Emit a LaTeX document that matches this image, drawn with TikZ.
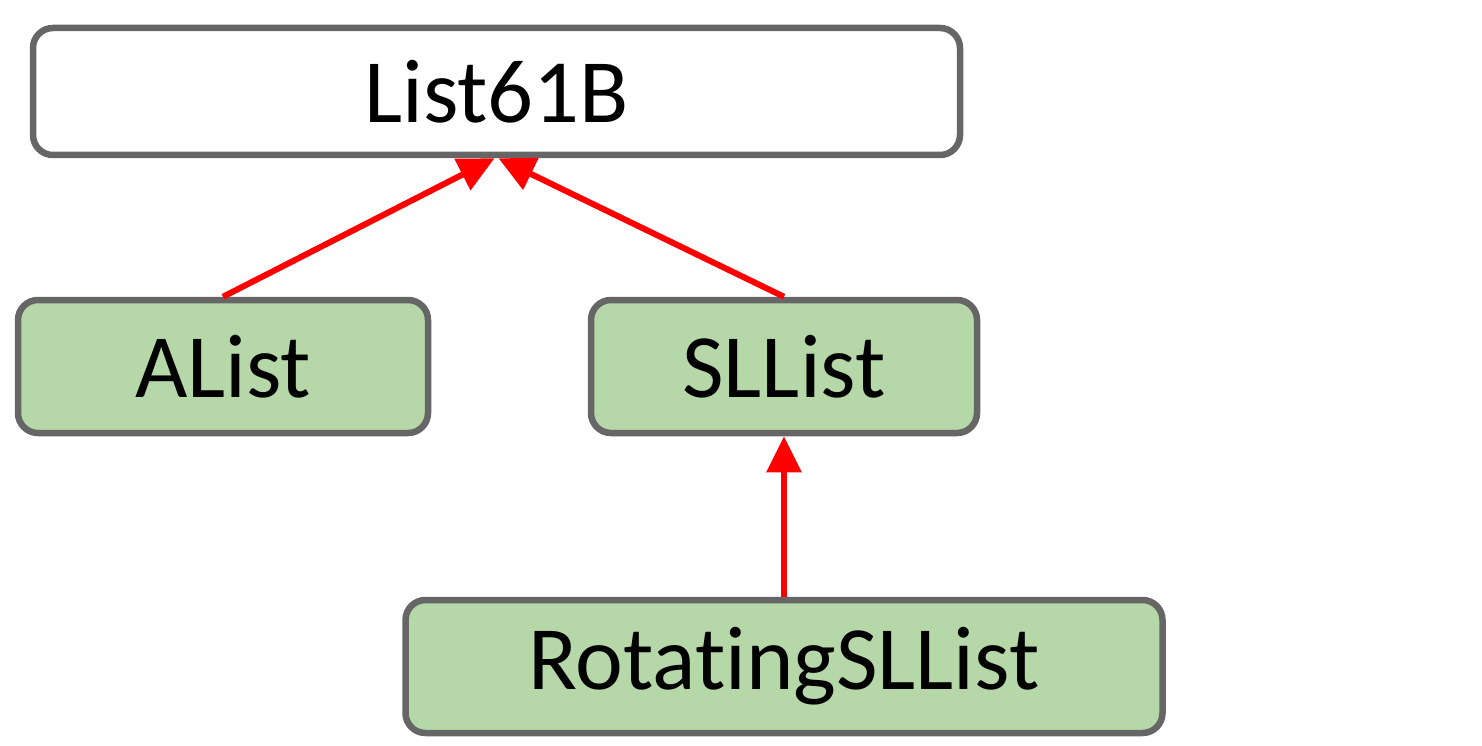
\documentclass[tikz,border=0pt]{standalone}
\usepackage{fontspec}
\setmainfont[Ligatures={NoCommon,NoContextual}]{Carlito}
\usetikzlibrary{arrows.meta}
\definecolor{boxgray}{HTML}{666666}
\definecolor{boxgreen}{HTML}{B6D7A8}
\definecolor{arrred}{HTML}{FF0000}
\begin{document}
\begin{tikzpicture}[x=1pt,y=1pt,
  box/.style={draw=boxgray,line width=6.5pt,rounded corners=20pt,inner sep=0pt,
    font=\fontsize{90.5}{100}\selectfont,text=black},
  greenbox/.style={box,fill=boxgreen},
  inherit/.style={draw=arrred,line width=6pt,-{Triangle[length=36pt,width=34pt]}}]
\useasboundingbox (0,0) rectangle (1482,-746);
\node[box,fill=white,minimum width=927pt,minimum height=127pt] (list) at (496.5,-91.5) {List61B};
\node[greenbox,minimum width=410pt,minimum height=133pt] (alist) at (223,-366.5) {AList};
\node[greenbox,minimum width=386pt,minimum height=133pt] (sllist) at (784,-366.5) {SLList};
\node[greenbox,minimum width=757pt,minimum height=133pt] (rot) at (784,-666.5) {Rotat\kern0pt ingSLList};
\draw[inherit] (alist.north) -- ([xshift=-2pt]list.south);
\draw[inherit] (sllist.north) -- ([xshift=2pt]list.south);
\draw[inherit] (rot.north) -- (sllist.south);
\end{tikzpicture}
\end{document}
